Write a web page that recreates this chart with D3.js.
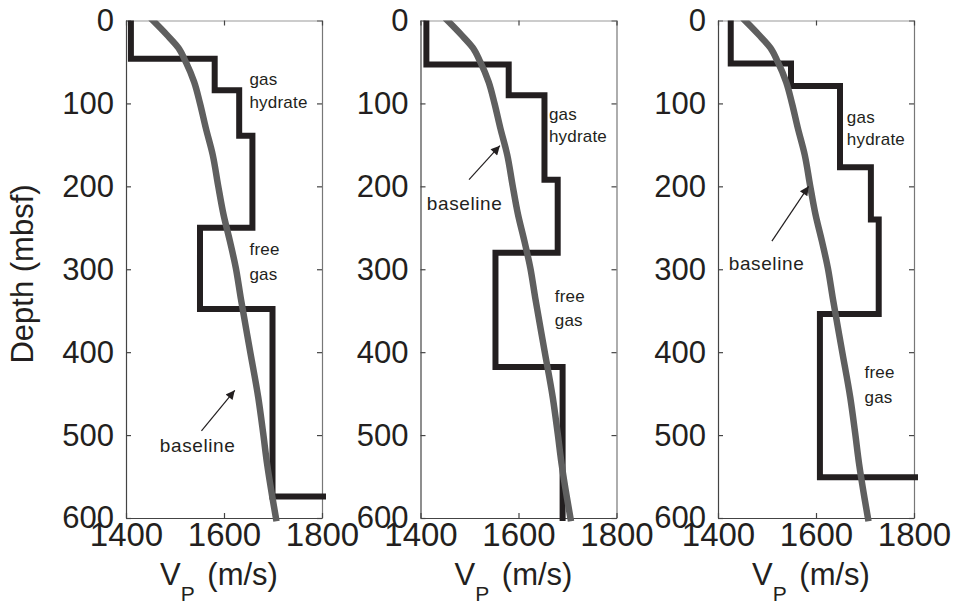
<!DOCTYPE html>
<html>
<head>
<meta charset="utf-8">
<script src="https://cdn.jsdelivr.net/npm/d3@7"></script>
<style>
  body { margin: 0; background: #fff; }
  svg { display: block; }
  text { font-family: "Liberation Sans", Arial, Helvetica, sans-serif; fill: #231f20; }
</style>
</head>
<body>
<div id="chart"></div>
<script>
// axis ticks
const depthTicks = [0, 100, 200, 300, 400, 500, 600];
const vpTicks = [1400, 1600, 1800];

// baseline velocity profile (same in all three panels)
const baseDepth = [0, 17, 33, 50, 74, 100, 130, 162, 199, 234, 266, 298, 334, 398, 455, 498, 535, 576, 600];
const baseVp = [1455, 1483, 1507, 1522, 1539, 1551, 1563, 1577, 1588, 1599, 1612, 1624, 1634, 1653, 1670, 1680, 1688, 1699, 1706];

// layered models: depth of layer top and velocity of each layer
const layerTop1 = [0, 46, 84, 139, 250, 348, 574];
const layerVp1 = [1410, 1581, 1631, 1658, 1551, 1699, 1850];
const layerTop2 = [0, 53, 90, 192, 280, 418];
const layerVp2 = [1412, 1580, 1653, 1680, 1553, 1690];
const layerTop3 = [0, 52, 79, 177, 240, 354, 551];
const layerVp3 = [1426, 1549, 1649, 1712, 1728, 1608, 1850];

// annotations (velocity, depth of text baseline)
const notes1 = [
  { text: 'gas', vp: 1652, z: 78 },
  { text: 'hydrate', vp: 1652, z: 106 },
  { text: 'free', vp: 1652, z: 283 },
  { text: 'gas', vp: 1652, z: 313 },
  { text: 'baseline', vp: 1469, z: 521, big: true }
];
const notes2 = [
  { text: 'gas', vp: 1662, z: 120 },
  { text: 'hydrate', vp: 1662, z: 147 },
  { text: 'baseline', vp: 1413, z: 228, big: true },
  { text: 'free', vp: 1674, z: 339 },
  { text: 'gas', vp: 1674, z: 369 }
];
const notes3 = [
  { text: 'gas', vp: 1663, z: 124 },
  { text: 'hydrate', vp: 1663, z: 150 },
  { text: 'baseline', vp: 1422, z: 301, big: true },
  { text: 'free', vp: 1699, z: 431 },
  { text: 'gas', vp: 1699, z: 461 }
];

// arrows pointing at the baseline curve: [tail vp, tail z, head vp, head z]
const arrow1 = [1554, 495, 1622, 446];
const arrow2 = [1499, 192, 1562, 151];
const arrow3 = [1510, 266, 1585, 200];

const panels = [
  { tops: layerTop1, vps: layerVp1, notes: notes1, arrow: arrow1 },
  { tops: layerTop2, vps: layerVp2, notes: notes2, arrow: arrow2 },
  { tops: layerTop3, vps: layerVp3, notes: notes3, arrow: arrow3 }
];

const width = 960;
const height = 604;
const panelLeft = [126, 420.5, 718];
const panelW = 196;
const plotTop = 20.5;
const plotBottom = 518;

const svg = d3.select('#chart')
  .append('svg')
  .attr('width', width)
  .attr('height', height);

const defs = svg.append('defs');
defs.append('marker')
  .attr('id', 'head')
  .attr('viewBox', '0 0 10 10')
  .attr('refX', 10)
  .attr('refY', 5)
  .attr('markerWidth', 12)
  .attr('markerHeight', 9)
  .attr('markerUnits', 'userSpaceOnUse')
  .attr('orient', 'auto')
  .append('path')
  .attr('d', 'M0,0 L10,5 L0,10 Z')
  .attr('fill', '#231f20');

const y = d3.scaleLinear().domain([0, 600]).range([plotTop, plotBottom]);

panels.forEach((p, i) => {
  const x = d3.scaleLinear().domain([1400, 1800]).range([panelLeft[i], panelLeft[i] + panelW]);
  const g = svg.append('g');

  defs.append('clipPath')
    .attr('id', 'clip' + i)
    .append('rect')
    .attr('x', x(1400) - 4)
    .attr('y', plotTop)
    .attr('width', panelW + 8)
    .attr('height', plotBottom - plotTop + 4);

  // axes with inward ticks
  const left = g.append('g')
    .attr('transform', `translate(${x(1400)},0)`)
    .call(d3.axisLeft(y).tickValues(depthTicks).tickSizeInner(-5).tickSizeOuter(0).tickPadding(12).tickFormat(d3.format('d')));
  const right = g.append('g')
    .attr('transform', `translate(${x(1800)},0)`)
    .call(d3.axisRight(y).tickValues(depthTicks).tickSizeInner(-5).tickSizeOuter(0).tickFormat(''));
  const bot = g.append('g')
    .attr('transform', `translate(0,${plotBottom})`)
    .call(d3.axisBottom(x).tickValues(vpTicks).tickSizeInner(-5).tickSizeOuter(0).tickPadding(5).tickFormat(d3.format('d')));
  const topAx = g.append('g')
    .attr('transform', `translate(0,${plotTop})`)
    .call(d3.axisTop(x).tickValues(vpTicks).tickSizeInner(-5).tickSizeOuter(0).tickFormat(''));

  [left, right, bot, topAx].forEach(a => {
    a.selectAll('path.domain').attr('stroke', '#444').attr('stroke-width', 1.2);
    a.selectAll('line').attr('stroke', '#444').attr('stroke-width', 1.2);
  });
  topAx.select('path.domain').attr('stroke', '#999');
  right.select('path.domain').attr('stroke', '#777');

  left.selectAll('text').style('font-size', '31px').attr('fill', '#231f20');
  bot.selectAll('text').style('font-size', '33px').attr('fill', '#231f20');

  const plot = g.append('g').attr('clip-path', `url(#clip${i})`);

  // layered model as steps
  const pts = p.tops.map((z, k) => [p.vps[k], z]);
  pts.push([p.vps[p.vps.length - 1], 600]);
  const stepLine = d3.line()
    .x(d => x(d[0]))
    .y(d => y(d[1]))
    .curve(d3.curveStepBefore);
  plot.append('path')
    .attr('d', stepLine(pts))
    .attr('fill', 'none')
    .attr('stroke', '#231f20')
    .attr('stroke-width', 6)
    .attr('stroke-linecap', 'square')
    .attr('stroke-linejoin', 'miter');

  // baseline profile, drawn over the model
  const baseLine = d3.line()
    .x((d, k) => x(baseVp[k]))
    .y(d => y(d))
    .curve(d3.curveMonotoneY);
  plot.append('path')
    .attr('d', baseLine(baseDepth))
    .attr('fill', 'none')
    .attr('stroke', '#5f5f5f')
    .attr('stroke-width', 6.5)
    .attr('stroke-linecap', 'square');

  // annotations
  g.selectAll('text.note')
    .data(p.notes)
    .join('text')
    .attr('class', 'note')
    .attr('x', d => x(d.vp))
    .attr('y', d => y(d.z))
    .style('font-size', d => d.big ? '19px' : '17px')
    .style('letter-spacing', d => d.big ? '0.6px' : '0.2px')
    .text(d => d.text);

  const a = p.arrow;
  g.append('line')
    .attr('x1', x(a[0])).attr('y1', y(a[1]))
    .attr('x2', x(a[2])).attr('y2', y(a[3]))
    .attr('stroke', '#231f20')
    .attr('stroke-width', 1.2)
    .attr('marker-end', 'url(#head)');

  // x label V_P (m/s)
  const xl = g.append('text')
    .attr('x', x(1400) + 34)
    .attr('y', 585)
    .style('font-size', '31px');
  xl.append('tspan').text('V');
  xl.append('tspan').attr('dy', 16).style('font-size', '21px').text('P');
  xl.append('tspan').attr('dy', -16).attr('dx', 4).text(' (m/s)');
});

// y label
svg.append('text')
  .attr('transform', 'translate(33,274) rotate(-90)')
  .attr('text-anchor', 'middle')
  .style('font-size', '31px')
  .text('Depth (mbsf)');
</script>
</body>
</html>
